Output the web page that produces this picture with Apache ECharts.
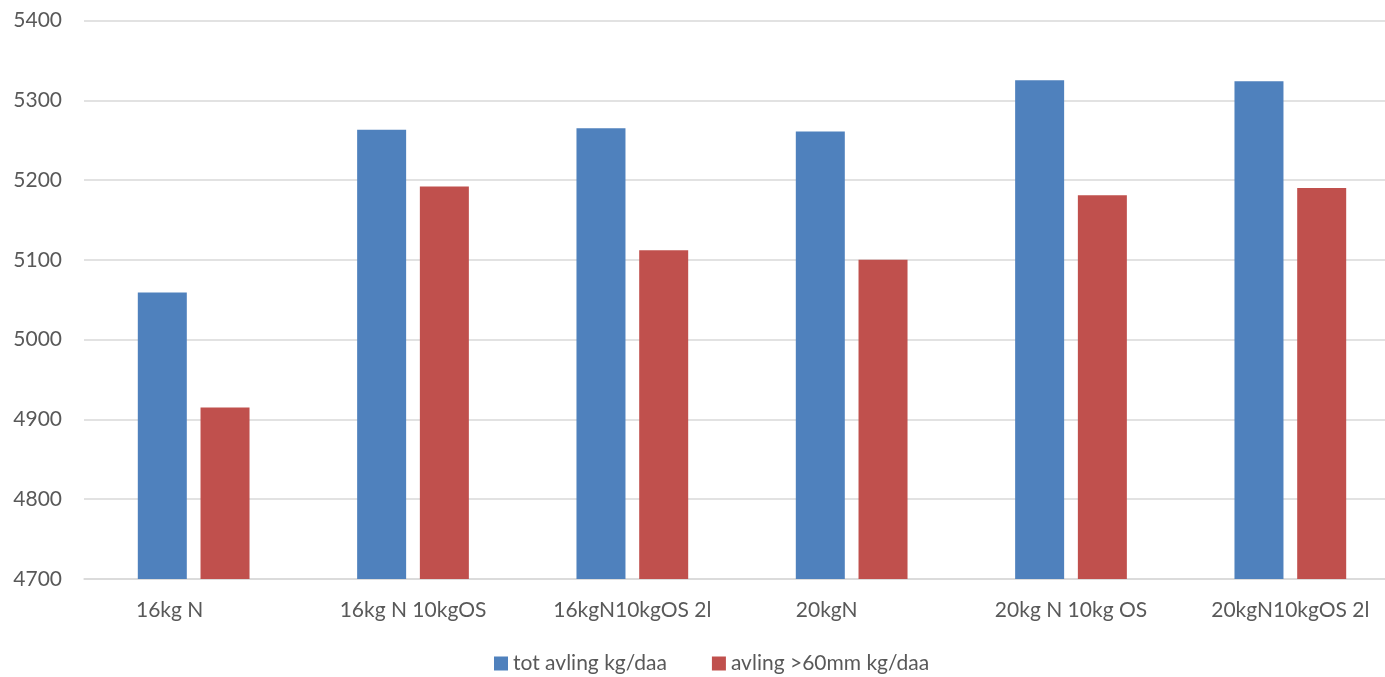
<!DOCTYPE html>
<html>
<head>
<meta charset="utf-8">
<script src="https://cdn.jsdelivr.net/npm/echarts@6/dist/echarts.min.js"></script>
<style>
  html, body { margin: 0; padding: 0; background: #ffffff; overflow: hidden; }
  #chart { width: 1385px; height: 677px; }
</style>
</head>
<body>
<div id="chart"></div>
<script>
// Treatments on the category axis
const categories = ['16kg N', '16kg N 10kgOS', '16kgN10kgOS 2l', '20kgN', '20kg N 10kg OS', '20kgN10kgOS 2l'];
// Yield values, kg/daa
const totAvling = [5059, 5263, 5265, 5261, 5325, 5324];
const avling60 = [4915, 5192, 5112, 5100, 5181, 5190];
const seriesNames = ['tot avling kg/daa', 'avling >60mm kg/daa'];
// Value axis range
const yMin = 4700, yMax = 5400, yStep = 100;

const FONT = 'Lato';
const SIZE = 21;
const TEXT = '#595959';
const GRID = '#d9d9d9';

// Short labels sit a little left of their group (padded on the right)
const shifted = { '16kg N': 48, '20kgN': 50 };

const chart = echarts.init(document.getElementById('chart'), null, { renderer: 'canvas' });
chart.setOption({
  animation: false,
  backgroundColor: '#ffffff',
  textStyle: { fontFamily: FONT, color: TEXT },
  // plot area runs a little past the right edge of the canvas
  grid: {
    left: 84, width: 1316, top: 20.5, bottom: 98,
    containLabel: false, outerBoundsMode: 'none'
  },
  legend: {
    left: 489,
    top: 648,
    itemWidth: 14,
    itemHeight: 14,
    itemGap: 45,
    icon: 'rect',
    textStyle: { fontFamily: FONT, fontSize: SIZE, color: TEXT },
    data: seriesNames
  },
  xAxis: {
    type: 'category',
    data: categories,
    axisLine: { lineStyle: { color: GRID, width: 1.5 } },
    axisTick: { show: false },
    axisLabel: {
      fontFamily: FONT, fontSize: SIZE, color: TEXT, margin: 21, interval: 0,
      formatter: function (v) {
        return shifted[v] ? '{s' + shifted[v] + '|' + v + '}' : v;
      },
      rich: {
        s48: { fontFamily: FONT, fontSize: SIZE, color: TEXT, padding: [0, 48, 0, 0] },
        s50: { fontFamily: FONT, fontSize: SIZE, color: TEXT, padding: [0, 50, 0, 0] }
      }
    }
  },
  yAxis: {
    type: 'value',
    min: yMin,
    max: yMax,
    interval: yStep,
    axisLine: { show: false },
    axisTick: { show: false },
    splitLine: { lineStyle: { color: GRID, width: 1.5 } },
    axisLabel: {
      fontFamily: FONT, fontSize: SIZE, color: TEXT, margin: 22,
      formatter: function (v) { return String(v); }
    }
  },
  series: [
    {
      name: seriesNames[0],
      type: 'bar',
      data: totAvling,
      barWidth: 49,
      barGap: '28%',
      itemStyle: { color: '#4f81bd' }
    },
    {
      name: seriesNames[1],
      type: 'bar',
      data: avling60,
      barWidth: 49,
      barGap: '28%',
      itemStyle: { color: '#c0504d' }
    }
  ]
});
</script>
</body>
</html>
